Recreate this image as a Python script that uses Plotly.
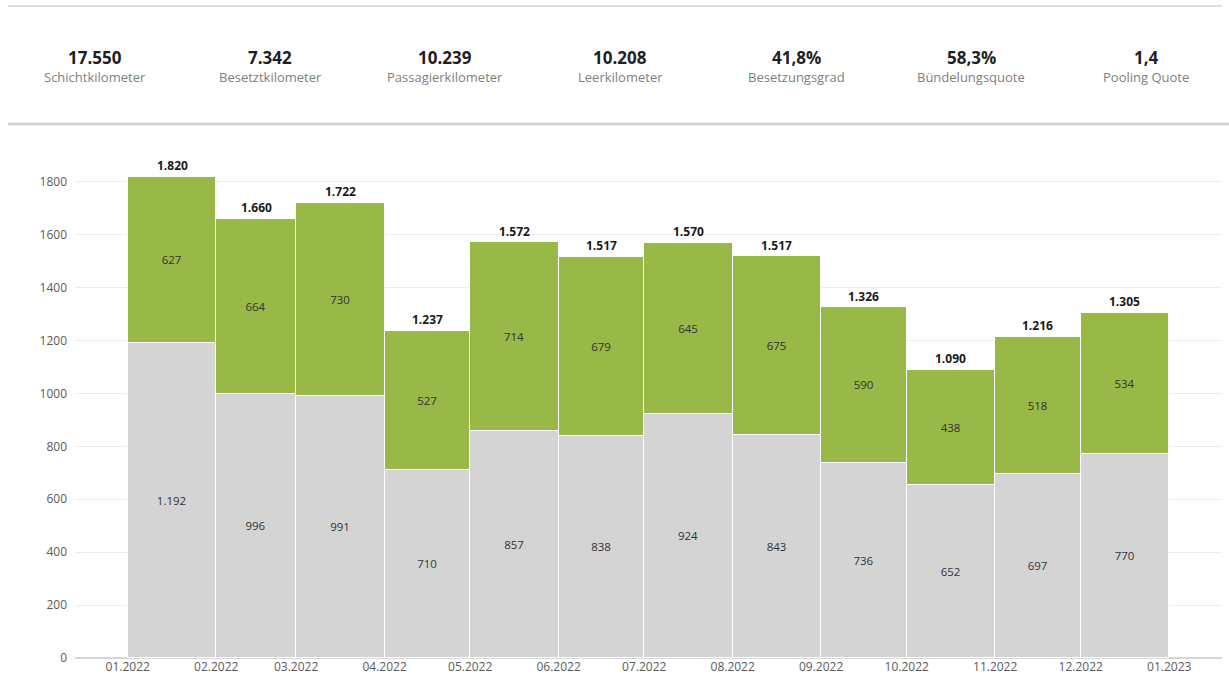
import pandas as pd
import plotly.graph_objects as go

# ---- data ----
months = ["2022-01-01", "2022-02-01", "2022-03-01", "2022-04-01", "2022-05-01", "2022-06-01",
          "2022-07-01", "2022-08-01", "2022-09-01", "2022-10-01", "2022-11-01", "2022-12-01"]
grey_vals = [1192, 996, 991, 710, 857, 838, 924, 843, 736, 652, 697, 770]
green_vals = [627, 664, 730, 527, 714, 679, 645, 675, 590, 438, 518, 534]
totals = [1820, 1660, 1722, 1237, 1572, 1517, 1570, 1517, 1326, 1090, 1216, 1305]

kpi_values = ["17.550", "7.342", "10.239", "10.208", "41,8%", "58,3%", "1,4"]
kpi_labels = ["Schichtkilometer", "Besetztkilometer", "Passagierkilometer", "Leerkilometer",
              "Besetzungsgrad", "Bündelungsquote", "Pooling Quote"]

# ---- derived ----
starts = pd.to_datetime(months)
ends = starts + pd.offsets.MonthBegin(1)
width_ms = [(e - s).total_seconds() * 1000 for s, e in zip(starts, ends)]
centers = [s + (e - s) / 2 for s, e in zip(starts, ends)]

GREEN = "#98b847"
GREY = "#d4d4d4"
FONT = "Open Sans"

W, H = 1229, 692
L, R, T, B = 75, 7, 150, 34
pw, ph = W - L - R, H - T - B


def px_x(x):
    return (x - L) / pw


def px_y(y):
    return (H - B - y) / ph


fig = go.Figure()
fig.add_trace(go.Bar(
    x=starts, y=grey_vals, width=width_ms, offset=0,
    marker=dict(color=GREY, line=dict(color="white", width=1)),
    texttemplate="%{y:,d}", textposition="inside", insidetextanchor="middle",
    textangle=0, constraintext="none",
    textfont=dict(family=FONT, size=11.5, color="#333333"),
    name="Leer", showlegend=False, hoverinfo="y",
))
fig.add_trace(go.Bar(
    x=starts, y=green_vals, width=width_ms, offset=0,
    marker=dict(color=GREEN, line=dict(color="white", width=1)),
    texttemplate="%{y:,d}", textposition="inside", insidetextanchor="middle",
    textangle=0, constraintext="none",
    textfont=dict(family=FONT, size=11.5, color="#333333"),
    name="Besetzt", showlegend=False, hoverinfo="y",
))

annotations = []
for c, t in zip(centers, totals):
    annotations.append(dict(
        x=c, y=t, xref="x", yref="y", text=f"{t:,d}".replace(",", "."),
        showarrow=False, yanchor="middle", yshift=11,
        font=dict(family=FONT, size=12, color="#1a1a1a", weight="bold"),
    ))

kpi_x = [95, 270, 445, 620, 796, 971, 1146]
for x, v, lab in zip(kpi_x, kpi_values, kpi_labels):
    annotations.append(dict(
        x=px_x(x), y=px_y(57), xref="paper", yref="paper", text=v,
        showarrow=False, xanchor="center", yanchor="middle",
        font=dict(family=FONT, size=17, color="#1f1f1f", weight="bold"),
    ))
    annotations.append(dict(
        x=px_x(x), y=px_y(77), xref="paper", yref="paper", text=lab,
        showarrow=False, xanchor="center", yanchor="middle",
        font=dict(family=FONT, size=13, color="#808080"),
    ))

shapes = [
    dict(type="line", xref="paper", yref="paper", x0=px_x(8), x1=px_x(1222),
         y0=px_y(6), y1=px_y(6), line=dict(color="#dedede", width=2)),
    dict(type="line", xref="paper", yref="paper", x0=px_x(8), x1=px_x(1229),
         y0=px_y(124), y1=px_y(124), line=dict(color="#d2d2d2", width=3)),
]

fig.update_layout(
    width=W, height=H,
    margin=dict(l=L, r=R, t=T, b=B),
    barmode="stack", bargap=0,
    paper_bgcolor="white", plot_bgcolor="white",
    separators=",.",
    font=dict(family=FONT, size=12, color="#666666"),
    annotations=annotations, shapes=shapes,
    showlegend=False,
)
fig.update_xaxes(
    type="date", range=["2021-12-13 12:00", "2023-01-19 12:00"],
    tick0="2022-01-01", dtick="M1", tickformat="%m.%Y",
    showgrid=False, showline=False, ticks="",
    tickfont=dict(family=FONT, size=12, color="#5a5a5a"),
)
fig.update_yaxes(
    range=[0, 1920], dtick=200, tickformat="d",
    showgrid=True, gridcolor="#ececec", gridwidth=1,
    zeroline=True, zerolinecolor="#d6d6d6", zerolinewidth=2,
    showline=False, ticks="", ticklabelstandoff=7,
    tickfont=dict(family=FONT, size=12, color="#5a5a5a"),
)

fig.write_html(
    "out.html",
    config={"displayModeBar": False},
    post_script="document.body.style.margin='0';document.body.style.overflow='hidden';",
)
